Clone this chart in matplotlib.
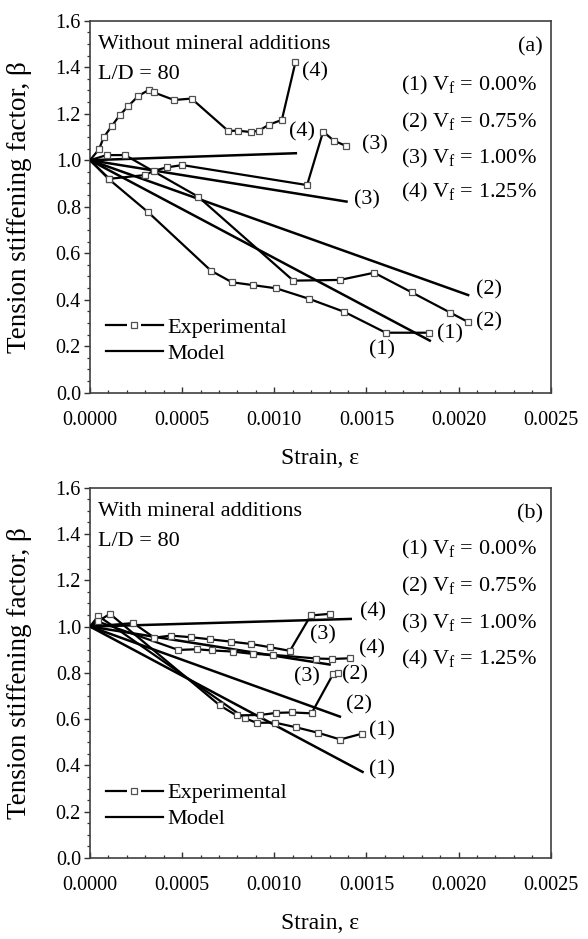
import matplotlib
matplotlib.use('Agg')
import matplotlib.pyplot as plt
from matplotlib.ticker import MultipleLocator, FormatStrFormatter

plt.rcParams['font.family'] = ['Liberation Serif', 'DejaVu Serif']
plt.rcParams['mathtext.fontset'] = 'custom'
plt.rcParams['mathtext.rm'] = 'Liberation Serif'
plt.rcParams['mathtext.it'] = 'Liberation Serif:italic'

# ---------------- Panel (a): without mineral additions ----------------
a_exp1_x = [0, 0.000103, 0.000316, 0.000656, 0.000770, 0.000882, 0.001010, 0.001188, 0.001379, 0.001605, 0.001840]
a_exp1_y = [1.0, 0.918, 0.776, 0.525, 0.475, 0.463, 0.449, 0.404, 0.348, 0.258, 0.258]
a_exp2_x = [0, 0.0000904, 0.000190, 0.000587, 0.001103, 0.001356, 0.001542, 0.001745, 0.001956, 0.002052]
a_exp2_y = [1.0, 1.022, 1.022, 0.843, 0.482, 0.485, 0.516, 0.432, 0.344, 0.304]
a_exp3_x = [0, 0.000105, 0.000298, 0.000349, 0.000416, 0.000501, 0.001178, 0.001265, 0.001323, 0.001388]
a_exp3_y = [1.0, 0.920, 0.936, 0.955, 0.969, 0.979, 0.893, 1.123, 1.084, 1.062]
a_exp4_x = [0, 0.0000488, 0.0000742, 0.000119, 0.000161, 0.000208, 0.000262, 0.000318, 0.000345, 0.000456,
            0.000551, 0.000750, 0.000804, 0.000873, 0.000917, 0.000971, 0.001041, 0.001115]
a_exp4_y = [1.0, 1.047, 1.098, 1.148, 1.193, 1.233, 1.276, 1.302, 1.292, 1.259,
            1.265, 1.126, 1.127, 1.121, 1.127, 1.153, 1.173, 1.422]
a_model_x = [[0, 0.001844], [0, 0.002052], [0, 0.001392], [0, 0.001117]]
a_model_y = [[1.0, 0.224], [1.0, 0.420], [1.0, 0.822], [1.0, 1.030]]
a_labels = ["(4)", "(4)", "(3)", "(3)", "(2)", "(2)", "(1)", "(1)"]
a_label_x = [0.00122, 0.001148, 0.001546, 0.001504, 0.002165, 0.002165, 0.001952, 0.001587]
a_label_y = [1.381, 1.123, 1.065, 0.829, 0.442, 0.305, 0.255, 0.184]

# ---------------- Panel (b): with mineral additions ----------------
b_exp1_x = [0, 0.0000452, 0.000841, 0.000904, 0.001003, 0.001117, 0.001238, 0.001358, 0.001475]
b_exp1_y = [1.0, 1.046, 0.604, 0.584, 0.585, 0.565, 0.541, 0.512, 0.537]
b_exp2_x = [0, 0.000108, 0.000705, 0.000795, 0.000924, 0.001010, 0.001097, 0.001202, 0.001320, 0.001345]
b_exp2_y = [1.0, 1.055, 0.659, 0.616, 0.618, 0.627, 0.629, 0.625, 0.796, 0.800]
b_exp3_x = [0, 0.0000416, 0.000479, 0.000578, 0.000660, 0.000774, 0.000882, 0.000991, 0.001229, 0.001314, 0.001410]
b_exp3_y = [1.0, 1.022, 0.899, 0.902, 0.897, 0.892, 0.882, 0.878, 0.862, 0.860, 0.863]
b_exp4_x = [0, 0.000235, 0.000349, 0.000439, 0.000548, 0.000651, 0.000763, 0.000871, 0.000976, 0.001085, 0.001198, 0.001302]
b_exp4_y = [1.0, 1.015, 0.952, 0.961, 0.954, 0.945, 0.935, 0.925, 0.911, 0.895, 1.048, 1.055]
b_model_x = [[0, 0.001479], [0, 0.001356], [0, 0.001300], [0, 0.001415]]
b_model_y = [[1.0, 0.372], [1.0, 0.611], [1.0, 0.836], [1.0, 1.033]]
b_labels = ["(4)", "(3)", "(4)", "(3)", "(2)", "(2)", "(1)", "(1)"]
b_label_x = [0.001533, 0.001262, 0.001528, 0.001178, 0.001437, 0.001459, 0.001582, 0.001582]
b_label_y = [1.065, 0.964, 0.902, 0.784, 0.791, 0.661, 0.550, 0.383]

vf_labels = [r"(1) V$_{\mathrm{f}}$ = 0.00%", r"(2) V$_{\mathrm{f}}$ = 0.75%",
             r"(3) V$_{\mathrm{f}}$ = 1.00%", r"(4) V$_{\mathrm{f}}$ = 1.25%"]
x_ticks = [0.0, 0.0005, 0.0010, 0.0015, 0.0020, 0.0025]
y_ticks = [0.0, 0.2, 0.4, 0.6, 0.8, 1.0, 1.2, 1.4, 1.6]

FS_TICK = 14.5
FS_TXT = 16
FS_LAB = 17
FS_YLAB = 19.5
fig = plt.figure(figsize=(5.88, 9.39), dpi=100)
W, H = 588.0, 939.0
ax_a = fig.add_axes([90 / W, 1 - 392.7 / H, 460.7 / W, 372.0 / H])
ax_b = fig.add_axes([90 / W, 1 - 858.0 / H, 460.7 / W, 370.3 / H])

MK = dict(marker='s', ms=5.0, mfc='white', mec='#505050', mew=0.9)

def draw(ax, exps, models, labels, lx, ly, title, tag, vf_y):
    for ex, ey in exps:
        ax.plot(ex, ey, color='black', lw=1.6, markevery=list(range(1, len(ex))), zorder=3, **MK)
    for mx, my in models:
        ax.plot(mx, my, color='black', lw=1.8, zorder=2)
    for t, x, y in zip(labels, lx, ly):
        ax.text(x, y, t, fontsize=FS_TXT, ha='center', va='center', zorder=4)
    ax.set_xlim(0, 0.0025)
    ax.set_ylim(0, 1.6)
    ax.set_xticks(x_ticks)
    ax.set_yticks(y_ticks)
    ax.xaxis.set_major_formatter(FormatStrFormatter('%.4f'))
    ax.yaxis.set_major_formatter(FormatStrFormatter('%.1f'))
    ax.xaxis.set_minor_locator(MultipleLocator(0.0001))
    ax.yaxis.set_minor_locator(MultipleLocator(0.05))
    ax.tick_params(axis='x', which='both', direction='in', labelsize=FS_TICK, pad=13,
                   colors='#303030', labelcolor='black')
    ax.tick_params(axis='y', which='both', direction='out', labelsize=FS_TICK, pad=2,
                   colors='#303030', labelcolor='black')
    ax.tick_params(which='major', length=4.5, width=1.0)
    ax.tick_params(which='minor', length=2.5, width=0.9)
    for s in ax.spines.values():
        s.set_linewidth(1.2)
        s.set_color('#404040')
    ax.set_xlabel("Strain, ε", fontsize=FS_LAB)
    ax.set_ylabel("Tension stiffening factor, β", fontsize=FS_YLAB)
    ax.xaxis.label.set_va('center')
    ax.yaxis.label.set_va('center')
    ax.xaxis.set_label_coords(0.5, -0.177)
    ax.yaxis.set_label_coords(-0.153, 0.5)
    ax.text(0.018, 0.935, title, transform=ax.transAxes, fontsize=FS_TXT, ha='left', va='center')
    ax.text(0.018, 0.855, "L/D = 80", transform=ax.transAxes, fontsize=FS_TXT, ha='left', va='center')
    ax.text(0.983, 0.93, tag, transform=ax.transAxes, fontsize=FS_TXT, ha='right', va='center')
    for t, yy in zip(vf_labels, vf_y):
        ax.text(0.97, yy, t, transform=ax.transAxes, fontsize=FS_TXT, ha='right', va='center')
    h_line, = ax.plot([], [], color='black', lw=1.6)
    h_gap, = ax.plot([], [], ls='none', marker='s', ms=10, mfc='white', mec='white', mew=0)
    h_mk, = ax.plot([], [], ls='none', **MK)
    h_model, = ax.plot([], [], color='black', lw=1.6)
    ax.legend([(h_line, h_gap, h_mk), h_model], ["Experimental", "Model"], loc='lower left',
              bbox_to_anchor=(0.0, 0.035), frameon=False, fontsize=FS_TXT, handlelength=2.6,
              handletextpad=0.2, labelspacing=0.25, borderaxespad=0.3, numpoints=1)

draw(ax_a, [(a_exp1_x, a_exp1_y), (a_exp2_x, a_exp2_y), (a_exp3_x, a_exp3_y), (a_exp4_x, a_exp4_y)],
     list(zip(a_model_x, a_model_y)), a_labels, a_label_x, a_label_y,
     "Without mineral additions", "(a)", [0.826, 0.727, 0.629, 0.537])
draw(ax_b, [(b_exp1_x, b_exp1_y), (b_exp2_x, b_exp2_y), (b_exp3_x, b_exp3_y), (b_exp4_x, b_exp4_y)],
     list(zip(b_model_x, b_model_y)), b_labels, b_label_x, b_label_y,
     "With mineral additions", "(b)", [0.832, 0.733, 0.634, 0.535])

fig.savefig('out.png', dpi=100)
